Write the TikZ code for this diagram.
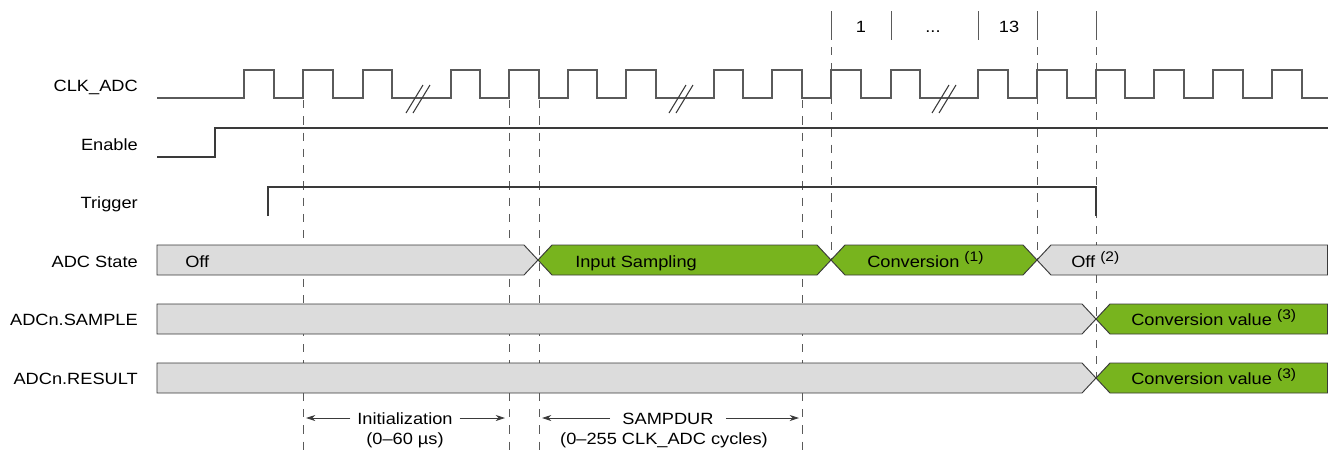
\documentclass[tikz,border=0pt]{standalone}
\usepackage{fontspec}
\setmainfont{Liberation Sans}[FakeStretch=1.12]
\usetikzlibrary{arrows.meta}
\definecolor{busgray}{HTML}{DCDCDC}
\definecolor{busgreen}{HTML}{78B41E}
\definecolor{wave}{HTML}{5A5A5A}
\definecolor{edge}{HTML}{3A3A3A}
\newcommand\supnote[1]{\raisebox{4.4pt}{\fontsize{10.4}{11}\selectfont #1}}
\tikzset{
  clk/.style={draw=wave, line width=0.9pt, line join=miter},
  sig/.style={draw=edge, line width=0.8pt},
  vdash/.style={draw=wave, line width=0.6pt, dash pattern=on 6.2pt off 6pt},
  vsolid/.style={draw=wave, line width=0.6pt},
  brk/.style={draw=edge, line width=0.8pt},
  grayseg/.style={draw=edge, line width=0.7pt, fill=busgray, line join=miter},
  greenseg/.style={draw=edge, line width=0.7pt, fill=busgreen, line join=miter},
  lbl/.style={anchor=base east, inner sep=0pt, font=\fontsize{12.2}{14}\selectfont},
  txt/.style={anchor=base west, inner sep=0pt, font=\fontsize{12.2}{14}\selectfont},
  ctxt/.style={anchor=base, inner sep=0pt, font=\fontsize{12.2}{14}\selectfont},
  arr/.style={draw=edge, line width=0.6pt, -{Stealth[length=7pt,width=4.5pt]}}
}
\begin{document}
\begin{tikzpicture}[x=0.75pt, y=-0.75pt]
\useasboundingbox (0,0) rectangle (1328,451);

% dashed guide lines
\foreach \x in {303,509,539,802} {\draw[vdash] (\x,100) -- (\x,451);}
\draw[vdash] (831,47) -- (831,260);
\draw[vdash] (1037,47) -- (1037,260);
\draw[vdash] (1096,47) -- (1096,378);
\foreach \x in {831,891,978,1037,1096} {\draw[vsolid] (\x,11) -- (\x,40);}

% top cycle numbers
\node[ctxt] (n1) at (861,32) {1};
\node[ctxt] (ndots) at (933,32) {...};
\node[ctxt] (n13) at (1009,32) {13};

% signal labels
\node[lbl] (lclk) at (138,91) {CLK\_ADC};
\node[lbl] (len) at (138,150) {Enable};
\node[lbl] (ltr) at (138,208) {Trigger};
\node[lbl] (lst) at (138,267) {ADC State};
\node[lbl] (lsa) at (138,325) {ADCn.SAMPLE};
\node[lbl] (lre) at (138,384) {ADCn.RESULT};

% clock
\draw[clk] (157,98)
  \foreach \r/\f in {244/274,303/333,363/392,451/480,509/539,568/597,626/656,714/743,772/802,831/861,891/920,978/1008,1037/1067,1096/1125,1154/1184,1213/1243,1272/1302}
  { -- (\r,98) -- (\r,70) -- (\f,70) -- (\f,98) } -- (1328,98);
% break marks
\foreach \c in {418,681,944} {
  \draw[brk] (\c-12,113) -- (\c+5,85);
  \draw[brk] (\c-5,113) -- (\c+12,85);
}

% enable
\draw[sig] (157,157) -- (215,157) -- (215,128) -- (1328,128);
% trigger
\draw[sig] (268,216) -- (268,187) -- (1096,187) -- (1096,216);

% ADC State bus
\draw[grayseg] (157,245) -- (524,245) -- (538,260) -- (524,275) -- (157,275) -- cycle;
\draw[greenseg] (538,260) -- (552,245) -- (817,245) -- (831,260) -- (817,275) -- (552,275) -- cycle;
\draw[greenseg] (831,260) -- (845,245) -- (1023,245) -- (1037,260) -- (1023,275) -- (845,275) -- cycle;
\draw[grayseg] (1037,260) -- (1051,245) -- (1327.6,245) -- (1327.6,275) -- (1051,275) -- cycle;
\node[txt] (soff) at (185,267) {Off};
\node[txt] (sinp) at (575,267) {Input Sampling};
\node[txt] (sconv) at (867,267) {Conversion \supnote{(1)}};
\node[txt] (soff2) at (1071,267) {Off \supnote{(2)}};

% SAMPLE bus
\draw[grayseg] (157,304) -- (1082,304) -- (1096,319) -- (1082,334) -- (157,334) -- cycle;
\draw[greenseg] (1096,319) -- (1110,304) -- (1327.6,304) -- (1327.6,334) -- (1110,334) -- cycle;
\node[txt] (sval) at (1131,325) {Conversion value \supnote{(3)}};

% RESULT bus
\draw[grayseg] (157,363) -- (1082,363) -- (1096,378) -- (1082,393) -- (157,393) -- cycle;
\draw[greenseg] (1096,378) -- (1110,363) -- (1327.6,363) -- (1327.6,393) -- (1110,393) -- cycle;
\node[txt] (rval) at (1131,384) {Conversion value \supnote{(3)}};

% bottom annotations
\node[ctxt] (init) at (405,424) {Initialization};
\node[ctxt] (initr) at (405,444) {(0–60 µs)};
\node[ctxt] (samp) at (668,424) {SAMPDUR};
\node[ctxt] (sampr) at (664,444) {(0–255 CLK\_ADC cycles)};
\coordinate (iL) at (306,418);
\coordinate (iR) at (505,418);
\coordinate (sL) at (542,418);
\coordinate (sR) at (799,418);
\draw[arr] ([xshift=-5pt]init.west |- iL) -- (iL);
\draw[arr] ([xshift=5pt]init.east |- iR) -- (iR);
\draw[arr] ([xshift=-9pt]samp.west |- sL) -- (sL);
\draw[arr] ([xshift=9pt]samp.east |- sR) -- (sR);
\end{tikzpicture}
\end{document}
